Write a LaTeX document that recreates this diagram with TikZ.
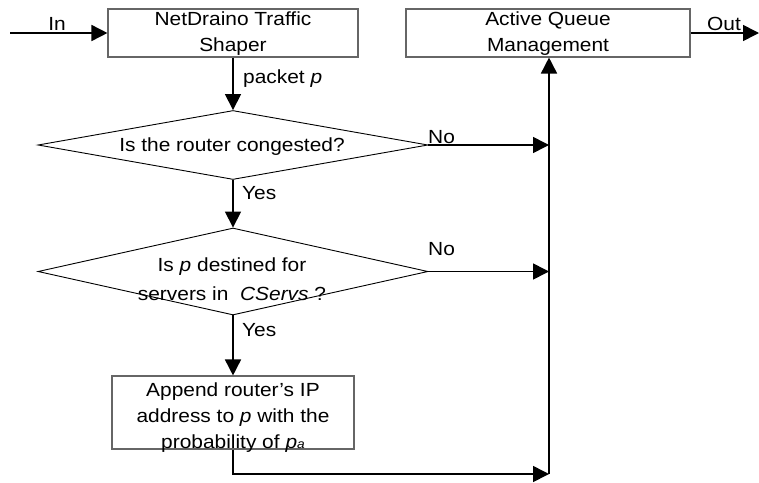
\documentclass[tikz,border=0pt]{standalone}
\usepackage{fontspec}
\setmainfont{Liberation Sans}[FakeStretch=1.1]
\usetikzlibrary{arrows.meta,shapes.geometric}
\tikzset{
  conn/.style={line width=1.6pt, -{Triangle[length=16pt,width=16pt]}},
  boxnode/.style={draw=black!60, line width=1.1pt, rectangle, inner sep=0pt, align=center},
  dmd/.style={draw=black, line width=0.9pt, diamond, inner sep=0pt},
  txt/.style={inner sep=0pt, align=center},
  lbl/.style={inner sep=0pt}
}
\begin{document}
\begin{tikzpicture}[x=1pt,y=-1pt,font=\fontsize{19}{26}\selectfont]
\useasboundingbox (0,0) rectangle (759,482);
% boxes
\node[boxnode, minimum width=250pt, minimum height=48pt] (ts) at (233,33) {};
\node[txt] (tst) at (233,34) {NetDraino Traffic\\Shaper};
\node[boxnode, minimum width=284pt, minimum height=48pt] (aqm) at (548,33) {};
\node[txt] (aqmt) at (548,34) {Active Queue\\Management};
\node[boxnode, minimum width=242pt, minimum height=73pt] (ap) at (233,412.5) {};
\node[txt] (apt) at (233,418) {Append router’s IP\\address to \textit{p} with the\\probability of \textit{p}{\fontsize{12.5}{12}\selectfont\textit{a}}};
% diamonds
\node[dmd, minimum width=390pt, minimum height=69pt] (d1) at (233,145) {};
\node[txt] (d1t) at (232,147) {Is the router congested?};
\node[dmd, minimum width=390pt, minimum height=87pt] (d2) at (233,271.5) {};
\node[txt, font=\fontsize{19}{29}\selectfont] (d2t) at (232,279) {Is \textit{p} destined for\\servers in \ \textit{CServs} ?};
% coordinates
\coordinate (in) at (10,33);
\coordinate (out) at (759,33);
\coordinate (j1) at (549,145);
\coordinate (j2) at (549,271.5);
\coordinate (j3) at (549,474);
% connectors
\draw[conn] (in) -- (ts.west);
\draw[conn] (aqm.east) -- (out);
\draw[conn] (ts.south) -- (d1.north);
\draw[conn] (d1.east) -- (j1);
\draw[conn] (d1.south) -- (d2.north);
\draw[conn] (d2.east) -- (j2);
\draw[conn] (d2.south) -- (ap.north);
\draw[conn] (ap.south) |- (j3);
\draw[conn] (j3) -- (aqm.south -| j3);
% labels
\node[lbl, anchor=base] (lin) at (57,30) {In};
\node[lbl, anchor=base] (lout) at (724,30) {Out};
\node[lbl, anchor=base west] (lpk) at (243,83) {packet \textit{p}};
\node[lbl, anchor=base west] (lno1) at (428,143) {No};
\node[lbl, anchor=base west] (lno2) at (428,255) {No};
\node[lbl, anchor=base west] (ly1) at (242,199) {Yes};
\node[lbl, anchor=base west] (ly2) at (242,336) {Yes};
\end{tikzpicture}
\end{document}
